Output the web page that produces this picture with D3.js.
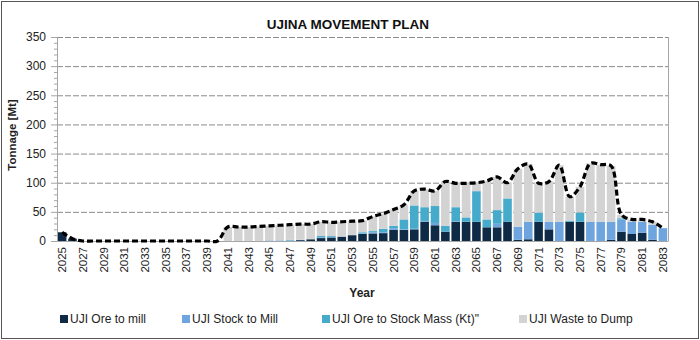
<!DOCTYPE html>
<html><head><meta charset="utf-8">
<script src="https://cdn.jsdelivr.net/npm/d3@7"></script>
<style>body{margin:0;background:#fff}svg{display:block}</style>
</head><body>
<svg id="chart" width="700" height="340"></svg>
<script>
const years = [2025,2026,2027,2028,2029,2030,2031,2032,2033,2034,2035,2036,2037,2038,2039,2040,
2041,2042,2043,2044,2045,2046,2047,2048,2049,2050,2051,2052,2053,2054,2055,2056,2057,2058,2059,2060,
2061,2062,2063,2064,2065,2066,2067,2068,2069,2070,2071,2072,2073,2074,2075,2076,2077,2078,2079,2080,
2081,2082,2083];
const oreToMill = [15,4,0,0,0,0,0,0,0,0,0,0,0,0,0,0,
0,0,0,0,0,0,0,1.5,3,5,6,7.5,10,12,13,13.5,19,19,20,33,
27,16,33,33,33,23.5,23.5,33,2,3,33,20,0,33,33,0,0,2,16,12,
14,2,0];
const stockToMill = [0,0,0,0,0,0,0,0,0,0,0,0,0,0,0,0,
0,0,0,0,1,1,1,0.5,0,1,1,0,0,1,2,1.5,3,1,1,1.5,
4,0,1,0,0,0,6,0,22.5,30,0,13,33,0,0,33,33,31,21,21,
19,25.5,22];
const oreToStock = [0,0,0,0,0,0,0,0,0,0,0,0,0,0,0,0,
0,0,0,0,0,0,1,0,0,2.5,1.5,0,0,2,2,6,4,17,40,23.5,
29,10,24,7.5,52.5,13.5,23.5,40,0,0,15.5,0,0,2,16,0,0,0,2,0,
0,0,0];
const wasteToDump = [0,0,0,0,0,0,0,0,0,0,0,0,0,0,0,0,
24,24,24,25,25,26,26,27,26,24.5,23.5,25.5,24,20,25,26,28,25,25,31,
26,76,41,58.5,14.5,66,57,27,99.5,99,50.5,69,97,41,44,100,98,96,6,4,
4,5.5,0];
const yTicks = [0,50,100,150,200,250,300,350];
const seriesNames = ["UJI Ore to mill","UJI Stock to Mill","UJI Ore to Stock Mass (Kt)\"","UJI Waste to Dump"];
const seriesColors = ["#0e2a45","#6fa5de","#46abca","#d3d3d3"];

const svg = d3.select("#chart");
const W = 700, H = 340;
const m = {l:57, r:668, t:37, b:241};
const font = "'Liberation Sans', Arial, sans-serif";

svg.append("rect").attr("x",0).attr("y",0).attr("width",W).attr("height",H).attr("fill","#fff");
svg.append("rect").attr("x",1.5).attr("y",1.5).attr("width",W-3).attr("height",H-3)
  .attr("fill","none").attr("stroke","#555").attr("stroke-width",1);

const rows = years.map((y,i)=>({year:y, ore:oreToMill[i], stock:stockToMill[i], os:oreToStock[i], waste:wasteToDump[i]}));
const keys = ["ore","stock","os","waste"];
const stacked = d3.stack().keys(keys)(rows);

const x = d3.scaleBand().domain(years).range([m.l, m.r]).paddingInner(0.17).paddingOuter(0.08);
const y = d3.scaleLinear().domain([0,350]).range([m.b, m.t]);

// gridlines
svg.append("g").selectAll("line").data(yTicks.filter(d=>d>0)).join("line")
  .attr("x1",m.l).attr("x2",m.r).attr("y1",d=>y(d)+0.5).attr("y2",d=>y(d)+0.5)
  .attr("stroke","#8a8a8a").attr("stroke-width",1).attr("stroke-dasharray","6,2");

// right plot border
svg.append("line").attr("x1",m.r+0.5).attr("x2",m.r+0.5).attr("y1",m.t).attr("y2",m.b)
  .attr("stroke","#a6a6a6");

// bars
svg.append("g").selectAll("g").data(stacked).join("g")
  .attr("fill",(d,i)=>seriesColors[i])
  .selectAll("rect").data(d=>d).join("rect")
  .attr("x",d=>x(d.data.year)).attr("width",x.bandwidth())
  .attr("y",d=>y(d[1])).attr("height",d=>Math.max(0,y(d[0])-y(d[1])));

// y axis
const yAxis = d3.axisLeft(y).tickValues(yTicks).tickSize(6).tickPadding(5);
const gy = svg.append("g").attr("transform",`translate(${m.l},0)`).call(yAxis);
gy.select(".domain").attr("stroke","#a6a6a6");
gy.selectAll(".tick line").attr("stroke","#a6a6a6");
gy.selectAll("text").attr("font-family",font).attr("font-size",12).attr("fill","#222");
// minor ticks
const minor = d3.range(0,351,10).filter(d=>d%50!==0);
svg.append("g").selectAll("line").data(minor).join("line")
  .attr("x1",m.l-3).attr("x2",m.l).attr("y1",d=>y(d)+0.5).attr("y2",d=>y(d)+0.5)
  .attr("stroke","#a6a6a6");

// x axis
const xAxis = d3.axisBottom(x).tickValues(years.filter((d,i)=>i%2===0)).tickSize(0).tickPadding(0);
const gx = svg.append("g").attr("transform",`translate(0,${m.b})`).call(xAxis);
gx.select(".domain").attr("stroke","#a6a6a6");
gx.selectAll("text").attr("font-family",font).attr("font-size",11.5).attr("fill","#222")
  .attr("transform","rotate(-90)").attr("text-anchor","end").attr("dx","-6").attr("dy","0.35em")
  .attr("x",0).attr("y",0);

// total line
const totals = rows.map(r=>({year:r.year, v:r.ore+r.stock+r.os+r.waste}));
const line = d3.line().x(d=>x(d.year)+x.bandwidth()/2).y(d=>y(d.v)).curve(d3.curveCatmullRom.alpha(0.5));
svg.append("path").datum(totals).attr("d",line).attr("fill","none")
  .attr("stroke","#000").attr("stroke-width",3.2).attr("stroke-dasharray","6,3");

// title
svg.append("text").attr("x",348).attr("y",29).attr("text-anchor","middle")
  .attr("font-family",font).attr("font-weight","bold").attr("font-size",13.5).attr("fill","#111")
  .text("UJINA MOVEMENT PLAN");
// axis titles
svg.append("text").attr("transform","translate(16,135) rotate(-90)").attr("text-anchor","middle")
  .attr("font-family",font).attr("font-weight","bold").attr("font-size",11.5).attr("fill","#222")
  .text("Tonnage [Mt]");
svg.append("text").attr("x",362).attr("y",297).attr("text-anchor","middle")
  .attr("font-family",font).attr("font-weight","bold").attr("font-size",12).attr("fill","#222")
  .text("Year");

// legend
const legX = [60,182,322,519];
const lg = svg.append("g").selectAll("g").data(seriesNames).join("g")
  .attr("transform",(d,i)=>`translate(${legX[i]},319)`);
lg.append("rect").attr("x",0).attr("y",-4).attr("width",8).attr("height",8).attr("fill",(d,i)=>seriesColors[i]);
lg.append("text").attr("x",10).attr("y",0).attr("dy","0.35em")
  .attr("font-family",font).attr("font-size",12).attr("fill","#222").text(d=>d);
</script>
</body></html>
